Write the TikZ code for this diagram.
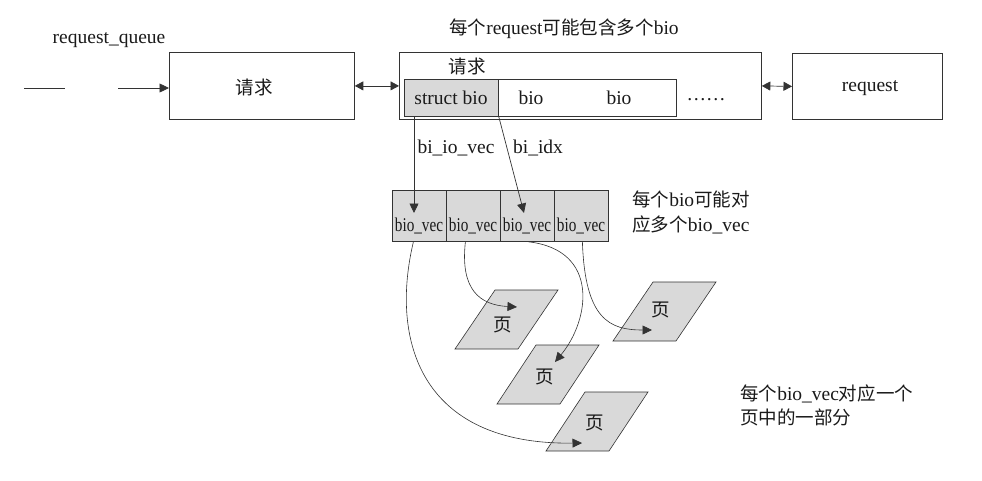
\documentclass[tikz,border=0pt]{standalone}
\usepackage{fontspec}
\setmainfont{Liberation Serif}
\newfontfamily\cjk[Scale=0.95]{Noto Sans CJK SC}
\usetikzlibrary{arrows.meta}
\definecolor{linec}{HTML}{333333}
\definecolor{fillg}{HTML}{D9D9D9}
\definecolor{textc}{HTML}{1A1A1A}
\tikzset{
  box/.style={draw=linec, line width=0.8pt, inner sep=0pt, anchor=north west, text=textc},
  gbox/.style={box, fill=fillg},
  lbl/.style={inner sep=0pt, text=textc, font=\fontsize{19.5}{24}\selectfont},
  arr/.style={draw=linec, line width=0.7pt, -{Triangle[length=9.5pt,width=9pt]}},
  darr/.style={draw=linec, line width=0.7pt, {Triangle[length=8.5pt,width=9pt]}-{Triangle[length=8.5pt,width=9pt]}},
  curv/.style={draw=linec, line width=0.6pt, -{Triangle[length=9.5pt,width=9pt]}},
  page/.style={draw=linec, line width=0.6pt, fill=fillg},
}
\begin{document}
\begin{tikzpicture}[x=1pt,y=-1pt, font=\fontsize{19.5}{24}\selectfont]
\useasboundingbox (0,0) rectangle (982,480);

% request queue
\node[lbl] (rq) at (109,40) {request\_queue};
\coordinate (la) at (24,88);
\coordinate (lb) at (65,88);
\coordinate (lc) at (118,88);
\draw[draw=linec, line width=0.7pt] (la) -- (lb);

\node[box, minimum width=185pt, minimum height=67pt] (req1) at (169,52) {};
\node[lbl] (req1t) at (254,87) {\cjk 请求};
\draw[arr] (lc) -- (lc -| req1.west);

% big request box
\node[box, minimum width=362pt, minimum height=67pt] (big) at (399,52) {};
\node[lbl] (title) at (564,29) {{\cjk 每个}request{\cjk 可能包含多个}bio};
\node[lbl] (qin) at (467,66) {\cjk 请求};
\node[box, minimum width=272pt, minimum height=37pt] (row) at (404,79) {};
\node[gbox, minimum width=94pt, minimum height=37pt] (sb) at (404,79) {};
\node[lbl] (sbt) at (451,98) {struct bio};
\node[lbl] (b1) at (531,98) {bio};
\node[lbl] (b2) at (619,98) {bio};
\node[lbl] (dots) at (706,100) {……};

\draw[darr] (req1.east) -- (big.west);

% right request
\node[box, minimum width=150pt, minimum height=66pt] (reqR) at (792,53) {};
\node[lbl] (reqRt) at (870,88) {request};
\draw[darr] (big.east) -- (reqR.west);

% bio_vec cells
\node[gbox, minimum width=54pt, minimum height=51pt] (v1) at (392,190) {};
\node[gbox, minimum width=54pt, minimum height=51pt] (v2) at (446,190) {};
\node[gbox, minimum width=54pt, minimum height=51pt] (v3) at (500,190) {};
\node[gbox, minimum width=54pt, minimum height=51pt] (v4) at (554,190) {};
\foreach \i/\x in {1/419,2/473,3/527,4/581}{
  \node[lbl] (vl\i) at (\x,226) {\scalebox{0.78}[1]{bio\_vec}};
}

% pointers from struct bio
\coordinate (t1) at (414,213);
\coordinate (t2) at (524,213);
\draw[arr] (sb.south -| t1) -- (t1);
\draw[arr] (sb.south east) -- (t2);
\node[lbl] (bio) at (456,148) {bi\_io\_vec};
\node[lbl] (bix) at (538,148) {bi\_idx};

\node[lbl, anchor=west, align=left, font=\fontsize{19.5}{25}\selectfont] (n1) at (632,212) {{\cjk 每个}bio{\cjk 可能对}\\{\cjk 应多个}bio\_vec};

% pages
\draw[page] (455,349) -- (495,290) -- (558,290) -- (518,349) -- cycle;
\draw[page] (613,341) -- (653,282) -- (716,282) -- (676,341) -- cycle;
\draw[page] (497,404) -- (536,345) -- (599,345) -- (560,404) -- cycle;
\draw[page] (546,451) -- (585,392) -- (648,392) -- (609,451) -- cycle;
\node[lbl] (p1) at (503,325) {\cjk 页};
\node[lbl] (p2) at (661,310) {\cjk 页};
\node[lbl] (p3) at (545,377) {\cjk 页};
\node[lbl] (p4) at (595,423) {\cjk 页};

\coordinate (e1) at (582,443);
\coordinate (e2) at (517,307);
\coordinate (e3) at (555,362);
\coordinate (e4) at (652,330);

\draw[curv] ([xshift=-6pt]v1.south) .. controls (390,340) and (420,445) .. (e1);
\draw[curv] ([xshift=-8pt]v2.south) .. controls (460,290) and (480,305) .. (e2);
\draw[curv] ([xshift=1pt]v3.south) .. controls (600,250) and (590,320) .. (e3);
\draw[curv] ([xshift=1pt]v4.south) .. controls (585,320) and (610,330) .. (e4);

\node[lbl, anchor=west, align=left, font=\fontsize{19.5}{24}\selectfont] (n2) at (740,405) {{\cjk 每个}bio\_vec{\cjk 对应一个}\\{\cjk 页中的一部分}};
\end{tikzpicture}
\end{document}
